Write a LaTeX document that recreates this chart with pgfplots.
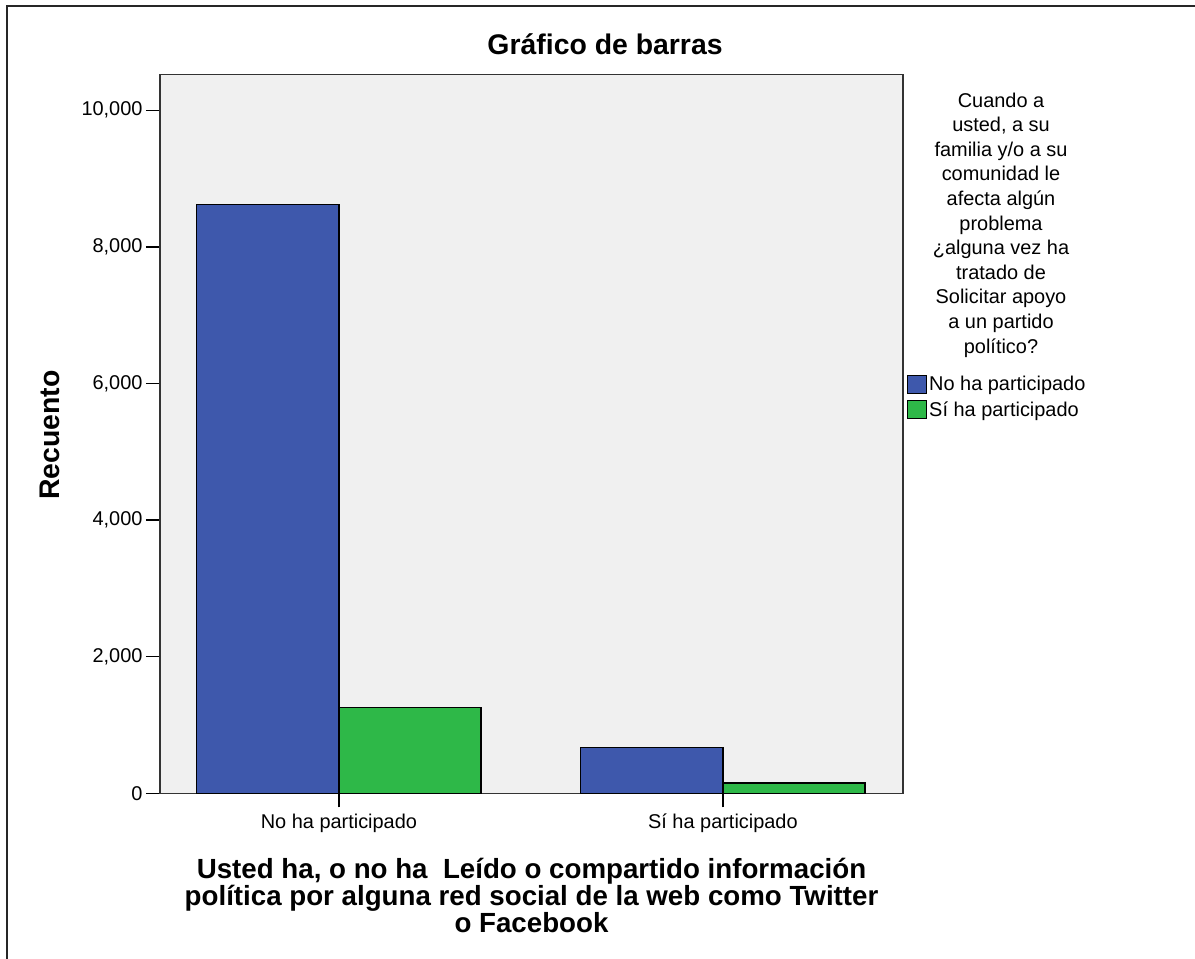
\documentclass[border=0pt]{standalone}
\usepackage{fontspec}
\setmainfont{Liberation Sans}
\usepackage{pgfplots}
\pgfplotsset{compat=1.18}
\definecolor{spssblue}{HTML}{3E58AC}
\definecolor{spssgreen}{HTML}{2EB848}
\definecolor{bgc}{HTML}{F0F0F0}
\begin{document}
\begin{tikzpicture}[x=1bp,y=1bp]
\useasboundingbox (0bp,0bp) rectangle (1195bp,959bp);
\draw[line width=1.5bp, black!85] (7bp,0bp) -- (7bp,953bp) -- (1195bp,953bp);
\begin{axis}[
  at={(160bp,165.7bp)}, anchor=south west,
  scale only axis, width=743bp, height=719bp,
  xmin=-0.466, xmax=1.469, ymin=0, ymax=10527,
  axis background/.style={fill=bgc},
  axis line style={line width=1.5bp, black!80},
  xtick={0,1}, xticklabels={No ha participado, Sí ha participado},
  ytick={0,2000,4000,6000,8000,10000},
  xtick pos=left, ytick pos=left,
  tick align=outside, major tick length=14bp,
  tick style={line width=1.3bp, black},
  /pgf/number format/assume math mode=true,
  /pgf/number format/1000 sep={,},
  scaled y ticks=false,
  tick label style={font=\fontsize{20}{24}\selectfont},
  xticklabel style={yshift=-3bp},
  title={Gráfico de barras},
  title style={at={(rel axis cs:0.599,1.0199)}, anchor=base, font=\bfseries\fontsize{28.5}{30}\selectfont},
  ylabel={Recuento},
  ylabel style={at={(rel axis cs:-0.148,0.498)}, anchor=center, font=\bfseries\fontsize{28.5}{30}\selectfont},
  xlabel={Usted ha, o no ha\ \ Leído o compartido información\\política por alguna red social de la web como Twitter\\o Facebook},
  xlabel style={at={(rel axis cs:0.5,-0.0851)}, anchor=north, align=center, font=\bfseries\fontsize{27.8}{23.5}\selectfont},
  legend style={at={(rel axis cs:1.0054,0.5828)}, anchor=north west, draw=none, fill=none,
    font=\fontsize{20}{24}\selectfont, inner sep=0pt, row sep=5bp, cells={anchor=west}},
  legend cell align=left,
]
\addplot[ybar, bar width=0.37, bar shift=-0.185, fill=spssblue, draw=black, line width=1.2bp,
  legend image code/.code={\draw[fill=spssblue,draw=black,line width=1bp] (0bp,-9bp) rectangle (19bp,9bp);}]
  coordinates {(0,8620) (1,675)};
\addlegendentry{No ha participado}
\addplot[ybar, bar width=0.37, bar shift=0.185, fill=spssgreen, draw=black, line width=1.2bp,
  legend image code/.code={\draw[fill=spssgreen,draw=black,line width=1bp] (0bp,-9bp) rectangle (19bp,9bp);}]
  coordinates {(0,1260) (1,150)};
\addlegendentry{Sí ha participado}
\end{axis}
\node[align=center, anchor=north, inner sep=0pt, font=\fontsize{20}{24.7}\selectfont] at (1001bp,866.5bp)
  {Cuando a\\usted, a su\\familia y/o a su\\comunidad le\\afecta algún\\problema\\¿alguna vez ha\\tratado de\\Solicitar apoyo\\a un partido\\político?};
\end{tikzpicture}
\end{document}
